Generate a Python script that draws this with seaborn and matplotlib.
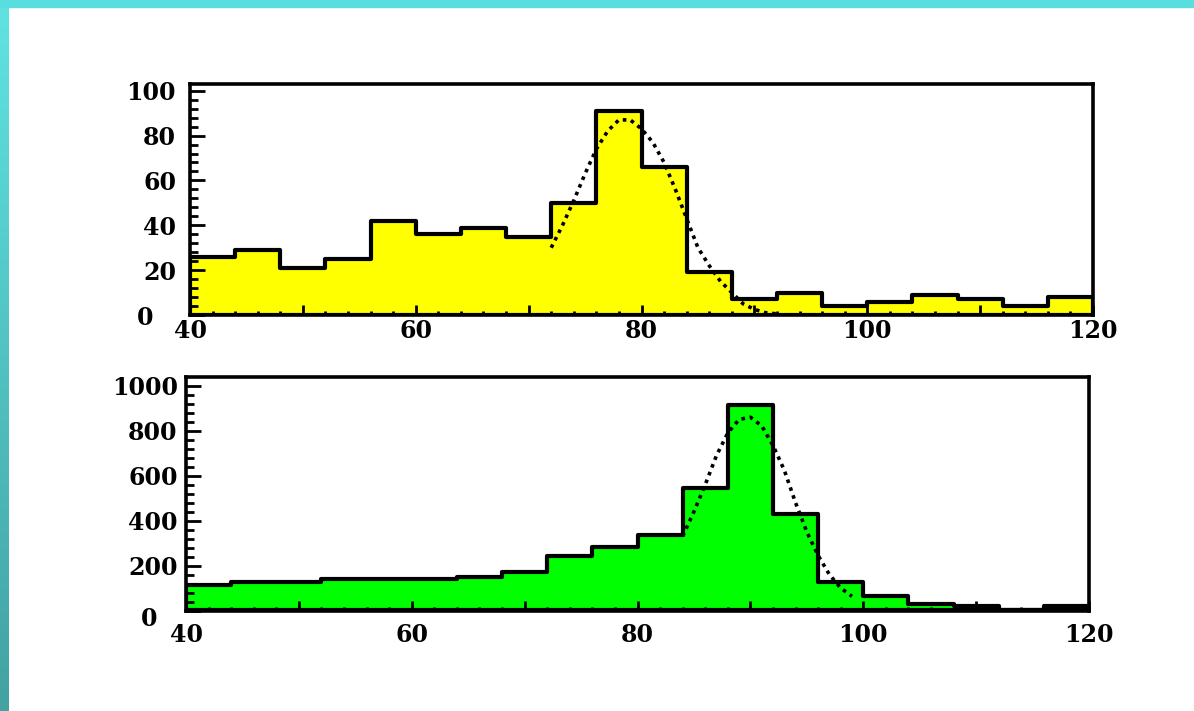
import numpy as np
import pandas as pd
import matplotlib
matplotlib.use("Agg")
import matplotlib.pyplot as plt
from matplotlib.patches import Rectangle
from matplotlib.colors import LinearSegmentedColormap
from matplotlib.ticker import MultipleLocator, FixedLocator, FuncFormatter
import seaborn as sns

# ---------------- data ----------------
bin_edges = [40, 44, 48, 52, 56, 60, 64, 68, 72, 76, 80,
             84, 88, 92, 96, 100, 104, 108, 112, 116, 120]

top_counts = [26, 29, 21, 25, 42, 36, 39, 35, 50, 91,
              66, 19, 7, 10, 4, 6, 9, 7, 4, 8]

bottom_counts = [114, 128, 128, 138, 138, 138, 148, 170, 242, 284,
                 337, 546, 915, 429, 127, 64, 29, 20, 0, 20]

# dotted fit curves
top_fit_x = [72, 73, 74, 75, 76, 77, 78, 79, 80, 81, 82,
             83, 84, 85, 86, 87, 88, 89, 90, 91, 92]
top_fit_y = [30, 40, 51, 63, 74, 82, 87, 87, 83, 77, 68,
             56, 43, 30, 22, 15, 10, 5, 2.5, 1, 0.5]

bottom_fit_x = [84, 85, 86, 87, 88, 89, 90, 91, 92, 93,
                94, 95, 96, 97, 98, 99]
bottom_fit_y = [330, 440, 560, 690, 790, 850, 860, 822, 735, 625,
                480, 350, 245, 160, 100, 63]

x_label_values = [40, 60, 80, 100, 120]
top_y_ticks = [0, 20, 40, 60, 80, 100]
bottom_y_ticks = [0, 200, 400, 600, 800, 1000]

# ---------------- style ----------------
sns.set_theme(style="white")
plt.rcParams["font.family"] = ["DejaVu Serif"]

W, H = 1194, 711
fig = plt.figure(figsize=(W / 100, H / 100), dpi=100)
fig.patch.set_facecolor("white")

# cyan frame (left gradient strip + top strip)
cax = fig.add_axes([0, 0, 9 / W, 1])
grad = np.linspace(0, 1, 256).reshape(-1, 1)
cmap = LinearSegmentedColormap.from_list("frame", ["#5fe4e2", "#43a2a2"])
cax.imshow(grad, aspect="auto", cmap=cmap)
cax.axis("off")
fig.add_artist(Rectangle((0, 1 - 7 / H), 1, 7 / H, transform=fig.transFigure,
                         color="#58dede", zorder=5))

ax1 = fig.add_axes([190 / W, 1 - 315 / H, 903 / W, 231 / H])
ax2 = fig.add_axes([186 / W, 1 - 610.5 / H, 903 / W, 233.5 / H])

centers = [(a + b) / 2 for a, b in zip(bin_edges[:-1], bin_edges[1:])]
FS = 17


def xfmt(v, pos):
    iv = int(round(v))
    return str(iv) if iv in x_label_values else ""


def draw(ax, counts, color, fx, fy, ymax, yticks, yminor, xpad, ypad, zero_off):
    df = pd.DataFrame({"x": centers, "w": counts})
    sns.histplot(data=df, x="x", weights="w", bins=bin_edges, element="step",
                 fill=True, color=color, alpha=1, edgecolor="black",
                 linewidth=3, ax=ax, zorder=1)
    sns.lineplot(x=fx, y=fy, ax=ax, color="black", linestyle=(0, (1, 1.3)),
                 linewidth=2.6, estimator=None, sort=False,
                 dash_capstyle="butt", zorder=3)
    ax.set_xlim(40, 120)
    ax.set_ylim(0, ymax)
    ax.set_xlabel("")
    ax.set_ylabel("")
    ax.set_facecolor("white")
    ax.set_axisbelow(False)

    ax.xaxis.set_major_locator(MultipleLocator(10))
    ax.xaxis.set_minor_locator(MultipleLocator(2))
    ax.xaxis.set_major_formatter(FuncFormatter(xfmt))
    ax.yaxis.set_major_locator(FixedLocator(yticks))
    ax.yaxis.set_minor_locator(MultipleLocator(yminor))
    ax.set_yticklabels(["" if t == 0 else str(t) for t in yticks])

    ax.tick_params(axis="both", which="both", direction="in", color="black",
                   width=2, bottom=True, left=True, top=False, right=False,
                   labelsize=FS, labelcolor="black")
    ax.tick_params(axis="x", which="major", length=7, pad=xpad)
    ax.tick_params(axis="x", which="minor", length=3)
    ax.tick_params(axis="y", which="major", length=11, pad=ypad)
    ax.tick_params(axis="y", which="minor", length=5.5)
    for lab in ax.get_xticklabels() + ax.get_yticklabels():
        lab.set_fontweight("heavy")

    for sp in ax.spines.values():
        sp.set_visible(True)
        sp.set_color("black")
        sp.set_linewidth(2.6)
        sp.set_zorder(4)

    ax.annotate("0", xy=(40, 0), xycoords="data", xytext=zero_off,
                textcoords="offset pixels", ha="right", va="center",
                fontsize=FS, fontweight="heavy", color="black",
                annotation_clip=False)


draw(ax1, top_counts, "#ffff00", top_fit_x, top_fit_y, 103, top_y_ticks, 4,
     xpad=3, ypad=10, zero_off=(-37, -3.5))
draw(ax2, bottom_counts, "#00ff00", bottom_fit_x, bottom_fit_y, 1039,
     bottom_y_ticks, 40, xpad=9, ypad=6, zero_off=(-29, -8.5))

fig.savefig("out.png", dpi=100, facecolor="white")
